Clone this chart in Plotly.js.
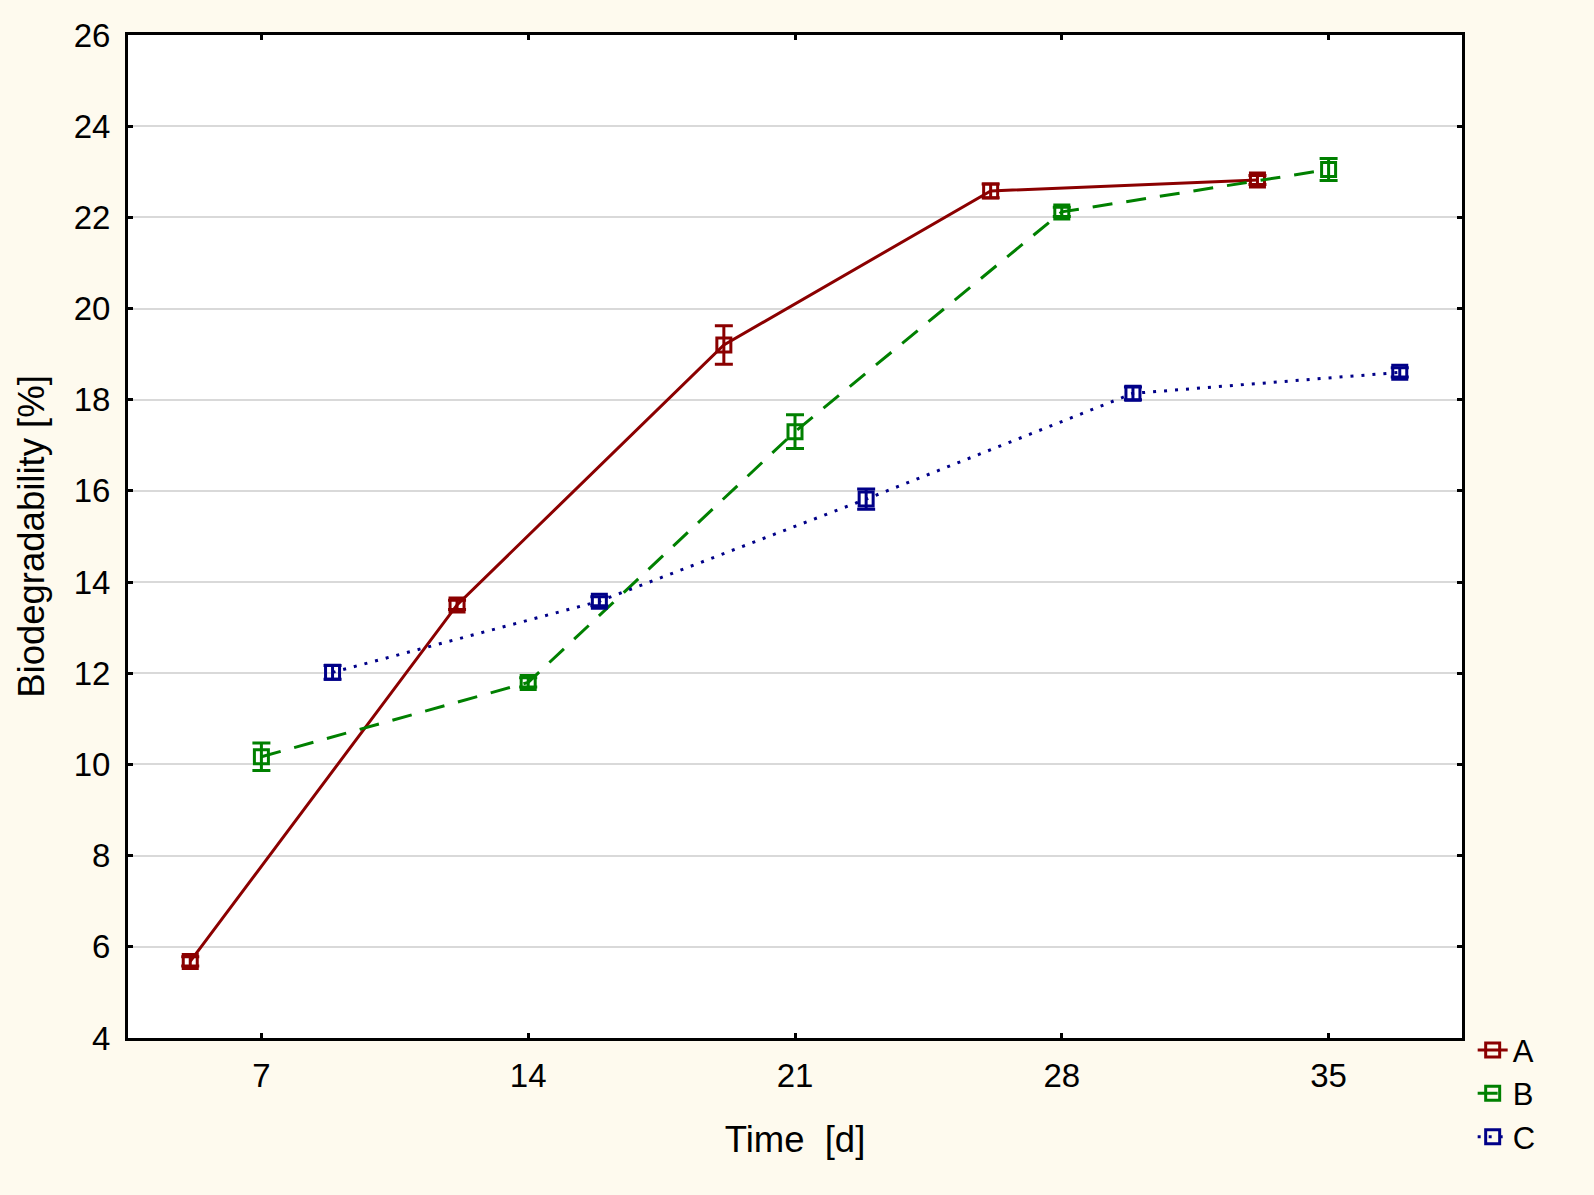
<!DOCTYPE html>
<html>
<head>
<meta charset="utf-8">
<script src="https://cdn.plot.ly/plotly-3.0.1.min.js"></script>
<style>html,body{margin:0;padding:0;background:#FEFAEE;}</style>
</head>
<body>
<div id="chart" style="width:1594px;height:1195px;"></div>
<script>
const categories = ['7', '14', '21', '28', '35'];
const seriesNames = ['A', 'B', 'C'];
const valuesA = [5.68, 13.5, 19.2, 22.58, 22.82];
const errorsA = [0.1, 0.1, 0.42, 0.15, 0.1];
const valuesB = [10.17, 11.8, 17.3, 22.12, 23.05];
const errorsB = [0.3, 0.1, 0.37, 0.1, 0.24];
const valuesC = [12.02, 13.58, 15.82, 18.14, 18.6];
const errorsC = [0.15, 0.1, 0.22, 0.14, 0.1];
const yTicks = [4, 6, 8, 10, 12, 14, 16, 18, 20, 22, 24, 26];

const colors = ['#8B0000', '#008000', '#000088'];
const dashes = ['solid', '20px,14px', '3px,8px'];
const vals = [valuesA, valuesB, valuesC];
const errs = [errorsA, errorsB, errorsC];

const traces = seriesNames.map((n, i) => ({
  type: 'scatter',
  mode: 'lines+markers',
  name: n,
  x: categories,
  y: vals[i],
  offsetgroup: n,
  line: {color: colors[i], width: 3, dash: dashes[i]},
  marker: {symbol: 'square-open', size: 14, color: colors[i], line: {width: 3, color: colors[i]}},
  error_y: {type: 'data', array: errs[i], visible: true, color: colors[i], thickness: 3, width: 9}
}));

const layout = {
  width: 1594, height: 1195,
  paper_bgcolor: '#FEFAEE',
  plot_bgcolor: '#FFFFFF',
  margin: {l: 128, r: 132, t: 35, b: 157},
  scattermode: 'group',
  scattergap: 0.2,
  font: {family: 'Liberation Sans, Arial, sans-serif', color: '#000'},
  xaxis: {
    type: 'category',
    categoryorder: 'array', categoryarray: categories,
    range: [-0.5, 4.5],
    showline: true, linecolor: '#000', linewidth: 3, mirror: 'allticks',
    ticks: 'inside', ticklen: 5, tickwidth: 3, tickcolor: '#000',
    showgrid: false, zeroline: false,
    tickfont: {size: 33},
    ticklabelstandoff: 6,
    title: {text: 'Time  [d]', font: {size: 36.5}, standoff: 34}
  },
  yaxis: {
    range: [4, 26],
    tickvals: yTicks,
    showline: true, linecolor: '#000', linewidth: 3, mirror: 'allticks',
    ticks: 'inside', ticklen: 5, tickwidth: 3, tickcolor: '#000',
    showgrid: true, gridcolor: '#D9D9D9', gridwidth: 2,
    zeroline: false,
    tickfont: {size: 33},
    ticklabelstandoff: 8,
    title: {text: 'Biodegradability [%]', font: {size: 36.5}, standoff: 18}
  },
  showlegend: true,
  legend: {
    x: 1.008, xanchor: 'left', y: -0.125, yanchor: 'bottom',
    bgcolor: 'rgba(0,0,0,0)',
    font: {size: 31},
    tracegroupgap: 0,
    itemwidth: 30
  }
};

Plotly.newPlot('chart', traces, layout, {displayModeBar: false});
</script>
</body>
</html>
